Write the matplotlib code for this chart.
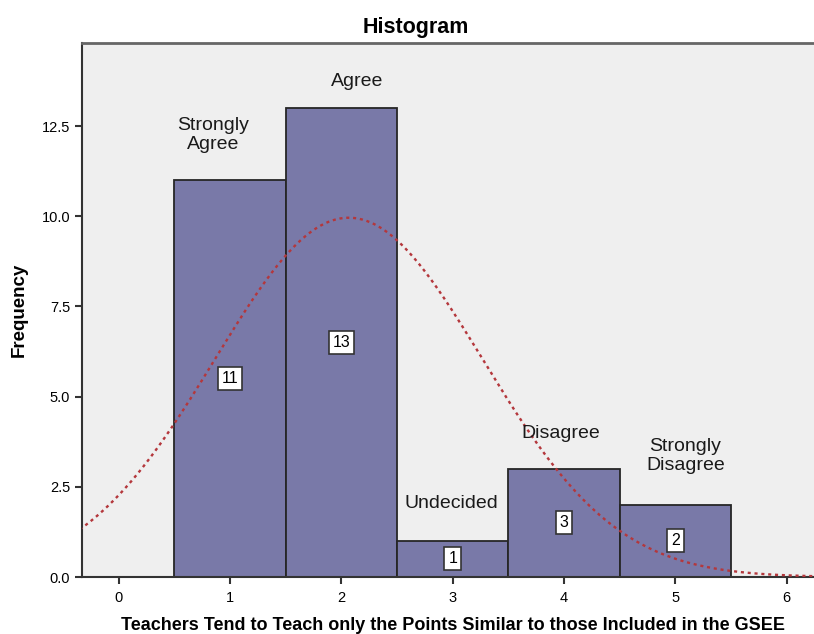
import numpy as np
import matplotlib
matplotlib.use('Agg')
from matplotlib import pyplot as plt

# Response categories (coded 1..5) and their counts
codes = [1, 2, 3, 4, 5]
counts = [11, 13, 1, 3, 2]
categories = ['Strongly\nAgree', 'Agree', 'Undecided', 'Disagree', 'Strongly\nDisagree']
yticks = [0.0, 2.5, 5.0, 7.5, 10.0, 12.5]
xticks = [0, 1, 2, 3, 4, 5, 6]

# where each category name sits (data coords)
label_pos = [(0.85, 12.25), (2.14, 13.75), (2.99, 2.05), (3.97, 3.98), (5.09, 3.35)]

plt.rcParams['font.family'] = ['Liberation Sans', 'DejaVu Sans']

fig = plt.figure(figsize=(8.14, 6.34), dpi=100)
ax = fig.add_axes([0.1007, 0.0899, 0.9, 0.842])
ax.set_facecolor('#EFEFEF')

ax.bar(codes, counts, width=1.0, color='#7979A8', edgecolor='#262626', linewidth=1.3, zorder=2)

# fitted normal curve from the counts
values = np.repeat(codes, counts)
mu = values.mean()
sd = values.std(ddof=1)
xs = np.linspace(-0.4, 6.4, 400)
ys = len(values) * np.exp(-0.5 * ((xs - mu) / sd) ** 2) / (sd * np.sqrt(2 * np.pi))
ax.plot(xs, ys, linestyle=(0, (1.3, 1.6)), color='#B4373C', linewidth=1.7, zorder=3)

for c, n in zip(codes, counts):
    ax.text(c, n / 2, str(n), ha='center', va='center', fontsize=11.5, zorder=4,
            bbox=dict(boxstyle='square,pad=0.25', facecolor='white', edgecolor='#333333', linewidth=1.2))

for name, (x, y) in zip(categories, label_pos):
    ax.text(x, y, name, ha='center', va='center', fontsize=14, color='#1a1a1a',
            linespacing=1.2, zorder=4)

ax.set_xlim(-0.33, 6.25)
ax.set_ylim(0, 14.8)
ax.set_xticks(xticks)
ax.set_yticks(yticks)
ax.set_yticklabels(['%.1f' % t for t in yticks])
ax.tick_params(direction='out', length=5, width=1.5, labelsize=10.5, color='#333333')
ax.tick_params(axis='x', pad=5)

for side in ['left', 'bottom']:
    ax.spines[side].set_linewidth(1.5)
    ax.spines[side].set_color('#333333')
ax.spines['top'].set_linewidth(2)
ax.spines['top'].set_color('#666666')
ax.spines['right'].set_visible(False)

ax.set_title('Histogram', fontsize=15.5, fontweight='bold', pad=7)
ax.title.set_position((0.456, 1.0))
ax.set_ylabel('Frequency', fontsize=13.5, fontweight='bold')
ax.yaxis.set_label_coords(-0.074, 0.5)
ax.set_xlabel('Teachers Tend to Teach only the Points Similar to those Included in the GSEE',
              fontsize=13, fontweight='bold')
ax.xaxis.set_label_coords(0.506, -0.075)

fig.savefig('out.png', dpi=100)
